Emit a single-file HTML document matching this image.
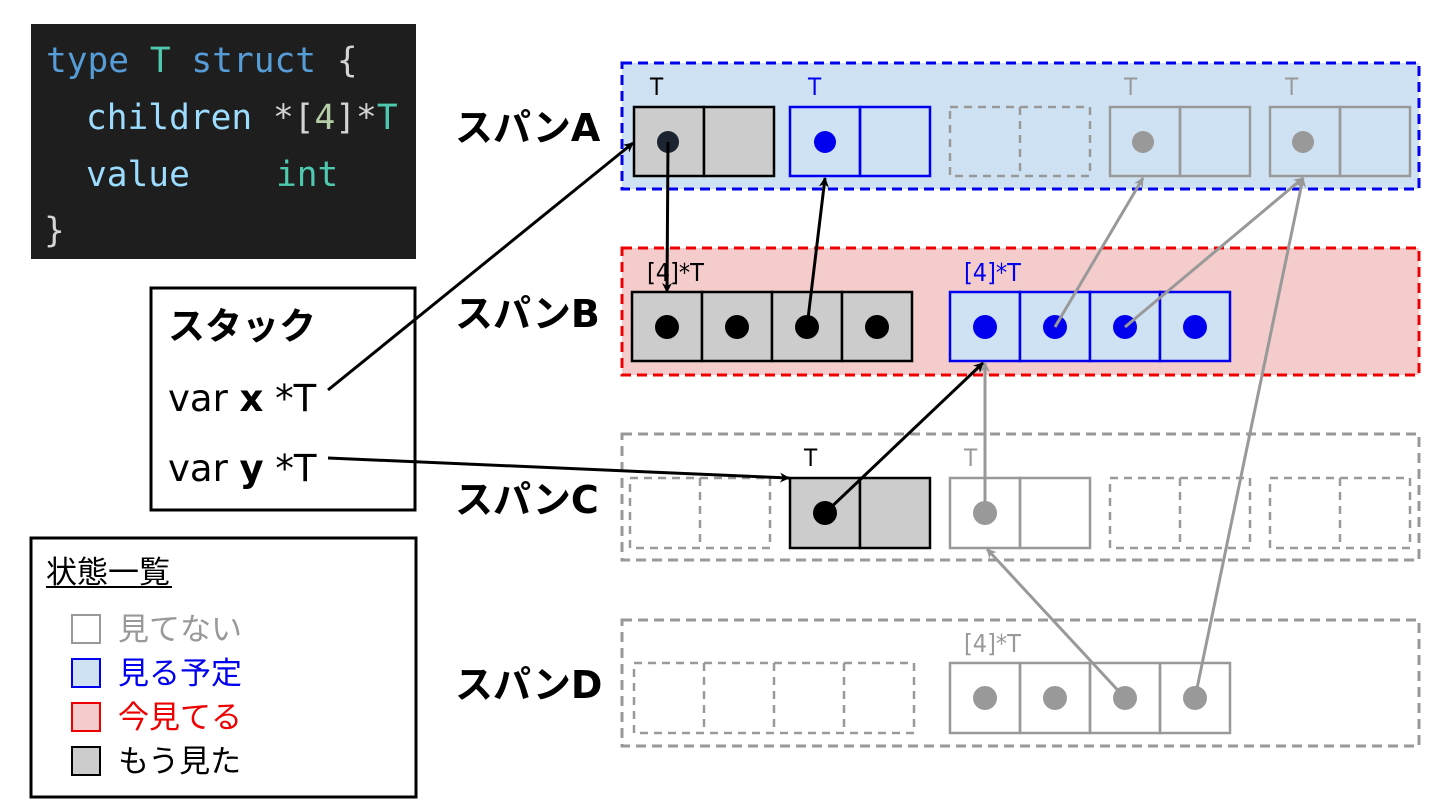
<!DOCTYPE html>
<html><head><meta charset="utf-8"><style>
html,body{margin:0;padding:0;background:#fff;width:1440px;height:810px;overflow:hidden}
svg{display:block}
.jp{font-family:"DejaVu Sans","Noto Sans CJK JP",sans-serif}
.lb{font-family:"DejaVu Sans Condensed","DejaVu Sans",sans-serif}
.mono{font-family:"DejaVu Sans Mono","Liberation Mono",monospace}
</style></head><body>
<svg width="1440" height="810" viewBox="0 0 1440 810" xmlns="http://www.w3.org/2000/svg">
<defs>
<marker id="ak" markerWidth="10" markerHeight="10" refX="9" refY="5" orient="auto" markerUnits="userSpaceOnUse"><path d="M0,0 L10,5 L0,10 L3,5 z" fill="#000"/></marker>
<marker id="ag" markerWidth="10" markerHeight="10" refX="9" refY="5" orient="auto" markerUnits="userSpaceOnUse"><path d="M0,0 L10,5 L0,10 L3,5 z" fill="#999"/></marker>
</defs>
<!-- code block -->
<rect x="31" y="24" width="385" height="235" fill="#1e1e1e"/>
<text class="mono" font-size="34.5" y="72"><tspan x="46" fill="#569cd6">type</tspan><tspan fill="#4ec9b0"> T</tspan><tspan fill="#569cd6"> struct</tspan><tspan fill="#d4d4d4"> {</tspan></text>
<text class="mono" font-size="34.5" y="129"><tspan x="86" fill="#9cdcfe">children</tspan><tspan fill="#d4d4d4"> *[</tspan><tspan fill="#b5cea8">4</tspan><tspan fill="#d4d4d4">]*</tspan><tspan fill="#4ec9b0">T</tspan></text>
<text class="mono" font-size="34.5" y="186"><tspan x="86" fill="#9cdcfe">value</tspan><tspan x="276" fill="#4ec9b0">int</tspan></text>
<text class="mono" font-size="34.5" y="242" x="44" fill="#d4d4d4">}</text>

<!-- stack box -->
<rect x="151" y="288" width="264" height="222" fill="#fff" stroke="#000" stroke-width="3"/>
<text class="jp" x="168" y="339" font-size="37" font-weight="bold">スタック</text>
<text class="jp" x="168" y="411" font-size="37">var <tspan font-weight="bold">x</tspan> *T</text>
<text class="jp" x="168" y="481" font-size="37">var <tspan font-weight="bold">y</tspan> *T</text>

<!-- legend -->
<rect x="31" y="538" width="385" height="259" fill="#fff" stroke="#000" stroke-width="3"/>
<text class="jp" x="46" y="583" font-size="31">状態一覧</text>
<line x1="46" y1="587" x2="172" y2="587" stroke="#000" stroke-width="2"/>
<rect x="72" y="615" width="28" height="28" fill="#fff" stroke="#999" stroke-width="2"/>
<text class="jp" x="118" y="640" font-size="31" fill="#999">見てない</text>
<rect x="72" y="659" width="28" height="28" fill="#cfe2f3" stroke="#0000ee" stroke-width="2"/>
<text class="jp" x="118" y="684" font-size="31" fill="#0000ee">見る予定</text>
<rect x="72" y="703" width="28" height="28" fill="#f4cccc" stroke="#e00" stroke-width="2"/>
<text class="jp" x="118" y="728" font-size="31" fill="#e00">今見てる</text>
<rect x="72" y="747" width="28" height="28" fill="#ccc" stroke="#000" stroke-width="2"/>
<text class="jp" x="118" y="772" font-size="31" fill="#000">もう見た</text>

<!-- span labels -->
<g class="jp" font-size="38" font-weight="bold">
<text x="455" y="141">スパンA</text>
<text x="455" y="327">スパンB</text>
<text x="455" y="513">スパンC</text>
<text x="455" y="698">スパンD</text>
</g>

<!-- span A -->
<rect x="622" y="63" width="797" height="126" fill="#cfe2f3" stroke="#0000ee" stroke-width="3" stroke-dasharray="10,6"/>
<g stroke-width="2.5">
<rect x="634" y="107" width="70" height="69" fill="#ccc" stroke="#000"/><rect x="704" y="107" width="70" height="69" fill="#ccc" stroke="#000"/>
<rect x="790" y="107" width="70" height="69" fill="none" stroke="#0000ee"/><rect x="860" y="107" width="70" height="69" fill="none" stroke="#0000ee"/>
<rect x="1110" y="107" width="70" height="69" fill="none" stroke="#999"/><rect x="1180" y="107" width="70" height="69" fill="none" stroke="#999"/>
<rect x="1270" y="107" width="70" height="69" fill="none" stroke="#999"/><rect x="1340" y="107" width="70" height="69" fill="none" stroke="#999"/>
</g>
<g fill="none" stroke="#999" stroke-width="2.5" stroke-dasharray="8,6">
<rect x="950" y="107" width="140" height="69"/><line x1="1020" y1="107" x2="1020" y2="176"/>
</g>
<g class="lb" font-size="24">
<text x="650" y="95">T</text><text x="808" y="95" fill="#0000ee">T</text><text x="1124" y="95" fill="#999">T</text><text x="1285" y="95" fill="#999">T</text>
</g>
<circle cx="668" cy="142" r="11" fill="#1c2331"/>
<circle cx="825" cy="142" r="11" fill="#0000ee"/>
<circle cx="1143" cy="142" r="11" fill="#999"/>
<circle cx="1303" cy="142" r="11" fill="#999"/>

<!-- span B -->
<rect x="622" y="248" width="797" height="127" fill="#f4cccc" stroke="#e00" stroke-width="3" stroke-dasharray="10,6"/>
<g stroke-width="2.5">
<rect x="632" y="292" width="70" height="69" fill="#ccc" stroke="#000"/><rect x="702" y="292" width="70" height="69" fill="#ccc" stroke="#000"/><rect x="772" y="292" width="70" height="69" fill="#ccc" stroke="#000"/><rect x="842" y="292" width="70" height="69" fill="#ccc" stroke="#000"/>
<rect x="950" y="292" width="70" height="69" fill="#cfe2f3" stroke="#0000ee"/><rect x="1020" y="292" width="70" height="69" fill="#cfe2f3" stroke="#0000ee"/><rect x="1090" y="292" width="70" height="69" fill="#cfe2f3" stroke="#0000ee"/><rect x="1160" y="292" width="70" height="69" fill="#cfe2f3" stroke="#0000ee"/>
</g>
<text class="lb" x="647" y="281" font-size="25">[4]*T</text>
<text class="lb" x="964" y="281" font-size="25" fill="#0000ee">[4]*T</text>
<circle cx="667" cy="327" r="12" fill="#000"/><circle cx="737" cy="327" r="12" fill="#000"/><circle cx="807" cy="327" r="12" fill="#000"/><circle cx="877" cy="327" r="12" fill="#000"/>
<circle cx="985" cy="327" r="12" fill="#0000ee"/><circle cx="1055" cy="327" r="12" fill="#0000ee"/><circle cx="1125" cy="327" r="12" fill="#0000ee"/><circle cx="1195" cy="327" r="12" fill="#0000ee"/>

<!-- span C -->
<rect x="622" y="434" width="797" height="126" fill="none" stroke="#999" stroke-width="3" stroke-dasharray="10,6"/>
<g fill="none" stroke="#999" stroke-width="2.5" stroke-dasharray="8,6">
<rect x="630" y="478" width="140" height="70"/><line x1="700" y1="478" x2="700" y2="548"/>
<rect x="1110" y="478" width="140" height="70"/><line x1="1180" y1="478" x2="1180" y2="548"/>
<rect x="1270" y="478" width="140" height="70"/><line x1="1340" y1="478" x2="1340" y2="548"/>
</g>
<g stroke-width="2.5">
<rect x="790" y="478" width="70" height="70" fill="#ccc" stroke="#000"/><rect x="860" y="478" width="70" height="70" fill="#ccc" stroke="#000"/>
<rect x="950" y="478" width="70" height="70" fill="none" stroke="#999"/><rect x="1020" y="478" width="70" height="70" fill="none" stroke="#999"/>
</g>
<text class="lb" x="804" y="466" font-size="24">T</text>
<text class="lb" x="964" y="466" font-size="24" fill="#999">T</text>
<circle cx="825" cy="513" r="12" fill="#000"/>
<circle cx="985" cy="513" r="12" fill="#999"/>

<!-- span D -->
<rect x="622" y="620" width="797" height="126" fill="none" stroke="#999" stroke-width="3" stroke-dasharray="10,6"/>
<g fill="none" stroke="#999" stroke-width="2.5" stroke-dasharray="8,6">
<rect x="634" y="663" width="280" height="70"/>
<line x1="704" y1="663" x2="704" y2="733"/><line x1="774" y1="663" x2="774" y2="733"/><line x1="844" y1="663" x2="844" y2="733"/>
</g>
<g stroke-width="2.5">
<rect x="950" y="663" width="70" height="70" fill="none" stroke="#999"/><rect x="1020" y="663" width="70" height="70" fill="none" stroke="#999"/><rect x="1090" y="663" width="70" height="70" fill="none" stroke="#999"/><rect x="1160" y="663" width="70" height="70" fill="none" stroke="#999"/>
</g>
<text class="lb" x="964" y="652" font-size="25" fill="#999">[4]*T</text>
<circle cx="985" cy="698" r="12" fill="#999"/><circle cx="1055" cy="698" r="12" fill="#999"/><circle cx="1125" cy="698" r="12" fill="#999"/><circle cx="1195" cy="698" r="12" fill="#999"/>

<!-- arrows -->
<g stroke-width="3" fill="none">
<line x1="328" y1="390" x2="633" y2="143" stroke="#000" marker-end="url(#ak)"/>
<line x1="668" y1="142" x2="667" y2="292" stroke="#000" marker-end="url(#ak)"/>
<line x1="807" y1="327" x2="825" y2="178" stroke="#000" marker-end="url(#ak)"/>
<line x1="328" y1="458" x2="789" y2="478" stroke="#000" marker-end="url(#ak)"/>
<line x1="825" y1="513" x2="983" y2="363" stroke="#000" marker-end="url(#ak)"/>
<line x1="985" y1="513" x2="985" y2="363" stroke="#999" marker-end="url(#ag)"/>
<line x1="1055" y1="327" x2="1143" y2="178" stroke="#999" marker-end="url(#ag)"/>
<line x1="1125" y1="327" x2="1303" y2="178" stroke="#999" marker-end="url(#ag)"/>
<line x1="1195" y1="698" x2="1303" y2="178" stroke="#999" marker-end="url(#ag)"/>
<line x1="1125" y1="698" x2="987" y2="549" stroke="#999" marker-end="url(#ag)"/>
</g>
</svg>
</body></html>
